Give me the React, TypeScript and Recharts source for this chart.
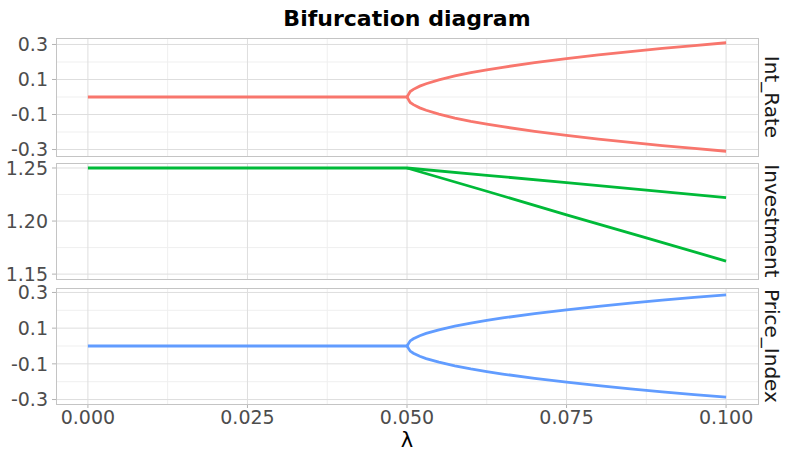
import { LineChart, Line, XAxis, YAxis, CartesianGrid } from 'recharts';

// x grid
const X_TICKS = [0, 0.025, 0.05, 0.075, 0.1];
const X_MINOR = [0.0125, 0.0375, 0.0625, 0.0875];

// stable branch (before the bifurcation point)
const STABLE_X = [0, 0.05];

// branches after λ = 0.05
const BRANCH_X = [0.05, 0.0505, 0.051, 0.052, 0.053, 0.055, 0.0575, 0.06, 0.0625, 0.065, 0.07, 0.075, 0.08, 0.085, 0.09, 0.095, 0.1];
const INT_RATE_UPPER = [0, 0.031, 0.0438, 0.062, 0.0759, 0.098, 0.12, 0.1386, 0.155, 0.1697, 0.196, 0.2191, 0.2401, 0.2593, 0.2772, 0.294, 0.3099];
const INT_RATE_LOWER = [0, -0.031, -0.0438, -0.062, -0.0759, -0.098, -0.12, -0.1386, -0.155, -0.1697, -0.196, -0.2191, -0.2401, -0.2593, -0.2772, -0.294, -0.3099];
const PRICE_UPPER = [0, 0.0287, 0.0406, 0.0574, 0.0703, 0.0908, 0.1112, 0.1284, 0.1435, 0.1572, 0.1815, 0.2029, 0.2223, 0.2401, 0.2567, 0.2723, 0.287];
const PRICE_LOWER = [0, -0.0287, -0.0406, -0.0574, -0.0703, -0.0908, -0.1112, -0.1284, -0.1435, -0.1572, -0.1815, -0.2029, -0.2223, -0.2401, -0.2567, -0.2723, -0.287];

const INV_X = [0.05, 0.0625, 0.075, 0.0875, 0.1];
const INV_UPPER = [1.25, 1.2431, 1.2363, 1.2292, 1.2221];
const INV_LOWER = [1.25, 1.2281, 1.2059, 1.1841, 1.1623];

const RATE_TICKS = [-0.3, -0.1, 0.1, 0.3];
const RATE_MINOR = [-0.2, 0, 0.2];
const INV_TICKS = [1.15, 1.2, 1.25];
const INV_MINOR = [1.175, 1.225];

const FONT = '"DejaVu Sans", sans-serif';

const zip = (xs: number[], ys: number[]) => xs.map((x, i) => ({ x, y: ys[i] }));
const flat = (xs: number[], v: number) => xs.map(x => ({ x, y: v }));

interface PanelProps {
  top: number;
  height: number;
  color: string;
  series: { x: number; y: number }[][];
  domain: [number, number];
  ticks: number[];
  minor: number[];
  digits: number;
  showX?: boolean;
}

function Panel({ top, height, color, series, domain, ticks, minor, digits, showX }: PanelProps) {
  const pad = 10;
  const bottom = showX ? 40 : pad;
  return (
    <div style={{ position: 'absolute', left: 0, top: top - pad }}>
      <LineChart
        width={786}
        height={pad + height + bottom}
        margin={{ top: pad, right: 28, left: 0, bottom: showX ? 0 : pad }}
      >
        <CartesianGrid stroke="#EFEFEF" horizontalValues={minor} verticalValues={X_MINOR} />
        <CartesianGrid stroke="#DEDEDE" horizontalValues={ticks} verticalValues={X_TICKS} />
        <XAxis
          type="number"
          dataKey="x"
          domain={[-0.005, 0.105]}
          ticks={X_TICKS}
          allowDataOverflow
          hide={!showX}
          height={showX ? 40 : 0}
          axisLine={false}
          tickSize={4}
          tickMargin={3}
          tickLine={{ stroke: '#B3B3B3' }}
          tick={{ fill: '#4D4D4D', fontSize: 19, fontFamily: FONT }}
          tickFormatter={(v: number) => v.toFixed(3)}
        />
        <YAxis
          type="number"
          dataKey="y"
          domain={domain}
          ticks={ticks}
          allowDataOverflow
          width={56}
          axisLine={false}
          tickSize={4}
          tickMargin={4}
          tickLine={{ stroke: '#B3B3B3' }}
          tick={{ fill: '#4D4D4D', fontSize: 19, fontFamily: FONT }}
          tickFormatter={(v: number) => v.toFixed(digits)}
        />
        {series.map((d, i) => (
          <Line
            key={i}
            data={d}
            dataKey="y"
            type="linear"
            stroke={color}
            strokeWidth={2.8}
            dot={false}
            isAnimationActive={false}
          />
        ))}
      </LineChart>
    </div>
  );
}

const PANELS = [
  { top: 38, height: 118, label: 'Int_Rate' },
  { top: 163, height: 116, label: 'Investment' },
  { top: 288, height: 116, label: 'Price_Index' },
];

export default function App() {
  return (
    <div style={{ position: 'absolute', left: 0, top: 0, width: 786, height: 454, background: '#fff', fontFamily: FONT }}>
      <Panel
        top={38}
        height={118}
        color="#F8766D"
        series={[flat(STABLE_X, 0), zip(BRANCH_X, INT_RATE_UPPER), zip(BRANCH_X, INT_RATE_LOWER)]}
        domain={[-0.337, 0.337]}
        ticks={RATE_TICKS}
        minor={RATE_MINOR}
        digits={1}
      />
      <Panel
        top={163}
        height={116}
        color="#00BA38"
        series={[flat(STABLE_X, 1.25), zip(INV_X, INV_UPPER), zip(INV_X, INV_LOWER)]}
        domain={[1.1454, 1.2547]}
        ticks={INV_TICKS}
        minor={INV_MINOR}
        digits={2}
      />
      <Panel
        top={288}
        height={116}
        color="#619CFF"
        series={[flat(STABLE_X, 0), zip(BRANCH_X, PRICE_UPPER), zip(BRANCH_X, PRICE_LOWER)]}
        domain={[-0.325, 0.325]}
        ticks={RATE_TICKS}
        minor={RATE_MINOR}
        digits={1}
        showX
      />
      <svg width={786} height={454} style={{ position: 'absolute', left: 0, top: 0, pointerEvents: 'none' }}>
        {PANELS.map(p => (
          <g key={p.label}>
            <rect x={56.5} y={p.top + 0.5} width={702} height={p.height} fill="none" stroke="#C4C4C4" strokeWidth={1} />
            <text
              x={772}
              y={p.top + p.height / 2}
              transform={`rotate(90 772 ${p.top + p.height / 2})`}
              textAnchor="middle"
              dominantBaseline="central"
              fontSize={20}
              fill="#1A1A1A"
              fontFamily={FONT}
            >
              {p.label}
            </text>
          </g>
        ))}
        <text x={407} y={26} textAnchor="middle" fontSize={22} fontWeight="bold" fill="#000" fontFamily={FONT}>
          Bifurcation diagram
        </text>
        <text x={407} y={447} textAnchor="middle" fontSize={21} fill="#000" fontFamily={FONT}>
          λ
        </text>
      </svg>
    </div>
  );
}
